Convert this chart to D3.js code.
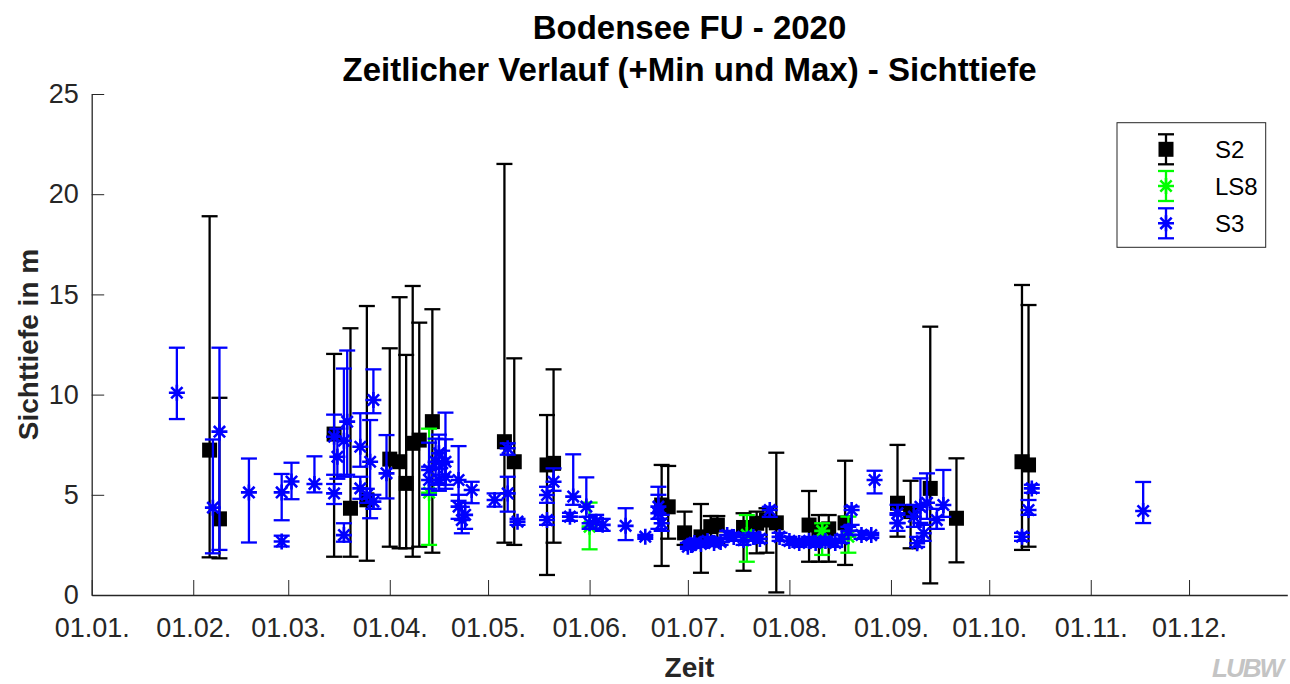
<!DOCTYPE html>
<html>
<head>
<meta charset="utf-8">
<script src="https://cdn.jsdelivr.net/npm/d3@7"></script>
<style>
  body { margin: 0; background: #fff; }
  svg { display: block; }
  text { font-family: "Liberation Sans", Arial, sans-serif; }
</style>
</head>
<body>
<script>
// S2 (black squares)
const s2Dates = ["2020-02-06","2020-02-09","2020-03-15","2020-03-20","2020-03-25","2020-04-01","2020-04-04","2020-04-06","2020-04-08","2020-04-10","2020-04-14","2020-05-06","2020-05-09","2020-05-19","2020-05-21","2020-06-23","2020-06-25","2020-06-30","2020-07-05","2020-07-08","2020-07-10","2020-07-18","2020-07-22","2020-07-25","2020-07-28","2020-08-07","2020-08-10","2020-08-13","2020-08-18","2020-09-03","2020-09-07","2020-09-13","2020-09-21","2020-10-11","2020-10-13"];
const s2Val  = [7.23,3.80,8.03,4.33,4.75,6.78,6.65,5.57,7.57,7.73,8.65,7.65,6.65,6.49,6.57,4.49,4.40,3.10,2.90,3.41,3.49,3.37,3.58,3.74,3.60,3.49,3.20,3.30,3.60,4.58,4.16,5.32,3.83,6.65,6.49];
const s2Min  = [1.88,1.83,1.91,1.91,1.71,2.41,2.33,2.33,1.91,2.41,2.11,2.61,2.50,1.00,2.61,1.45,2.81,2.50,1.11,2.50,2.60,1.21,2.08,2.11,0.13,1.66,1.66,1.66,1.50,2.91,2.33,0.58,1.63,2.25,2.41];
const s2Max  = [18.9,9.84,12.03,13.31,14.42,12.31,14.86,11.98,15.42,13.59,14.26,21.51,11.81,8.98,11.26,6.49,6.44,4.16,4.54,3.94,3.94,4.08,4.16,4.33,7.10,5.19,3.99,3.99,6.70,7.49,5.70,13.39,6.82,15.47,14.47];

// LS8 (green)
const ls8Dates = ["2020-04-13","2020-06-01","2020-07-19","2020-08-11","2020-08-19"];
const ls8Val   = [5.10,3.41,3.00,3.20,2.91];
const ls8Min   = [2.50,2.28,1.66,2.00,2.11];
const ls8Max   = [8.30,4.61,3.99,3.58,3.91];

// S3 (blue)
const s3Dates = ["2020-01-27","2020-02-07","2020-02-09","2020-02-18","2020-02-28","2020-02-28","2020-03-02","2020-03-09",
  "2020-03-15","2020-03-16","2020-03-15","2020-03-18","2020-03-19","2020-03-18","2020-03-23","2020-03-23","2020-03-27","2020-03-26","2020-03-27","2020-03-25","2020-03-31",
  "2020-04-13","2020-04-15","2020-04-16","2020-04-18","2020-04-13","2020-04-16","2020-04-18","2020-04-17","2020-04-22","2020-04-22","2020-04-23","2020-04-24","2020-04-26",
  "2020-05-03","2020-05-07","2020-05-07","2020-05-10","2020-05-19","2020-05-19","2020-05-21","2020-05-27","2020-05-26","2020-05-31",
  "2020-06-01","2020-06-03","2020-06-05","2020-06-12","2020-06-18","2020-06-22","2020-06-22","2020-06-23",
  "2020-07-01","2020-07-02","2020-07-03","2020-07-05","2020-07-07","2020-07-09","2020-07-11","2020-07-13","2020-07-15","2020-07-18","2020-07-21","2020-07-23","2020-07-26","2020-07-29",
  "2020-08-01","2020-08-04","2020-08-07","2020-08-09","2020-08-12","2020-08-15","2020-08-17","2020-08-19","2020-08-20","2020-08-23","2020-08-26","2020-08-27",
  "2020-09-03","2020-09-03","2020-09-08","2020-09-09","2020-09-10","2020-09-11","2020-09-12","2020-09-15","2020-09-17",
  "2020-10-11","2020-10-13","2020-10-14","2020-11-17"];
const s3Val = [10.09,4.36,8.15,5.12,5.12,2.67,5.66,5.54,
  7.90,6.90,5.07,2.99,8.65,7.70,7.40,5.32,9.73,6.65,4.66,4.99,6.07,
  6.24,6.65,7.07,6.65,5.74,5.74,5.90,6.57,5.74,4.41,3.74,4.00,5.24,
  4.74,7.32,5.07,3.66,3.74,4.99,5.65,4.91,3.91,4.41,
  3.58,3.66,3.50,3.45,2.91,4.08,4.41,3.58,
  2.41,2.50,2.60,2.55,2.70,2.60,2.65,2.99,2.90,2.74,2.90,2.80,4.24,2.90,
  2.70,2.60,2.70,2.60,2.70,2.60,2.80,3.20,4.24,3.00,2.99,5.74,
  3.58,4.08,3.91,2.58,4.40,3.08,4.60,3.74,4.49,
  2.91,4.24,5.32,4.19];
const s3Min = [8.78,2.08,2.25,2.62,3.73,2.42,4.78,5.12,
  6.00,5.80,4.54,2.66,6.00,5.90,6.40,4.80,9.07,3.83,4.30,4.60,4.82,
  5.30,5.50,5.60,5.50,5.00,5.20,5.30,6.00,4.70,3.80,3.08,3.30,4.58,
  4.41,7.00,4.16,3.50,3.50,4.60,5.20,4.50,3.70,3.90,
  3.30,3.30,3.20,2.74,2.80,3.30,3.80,3.20,
  2.30,2.35,2.45,2.40,2.50,2.45,2.50,2.80,2.70,2.50,2.70,2.60,3.90,2.70,
  2.50,2.40,2.50,2.40,2.50,2.40,2.60,3.00,3.50,2.80,2.85,5.07,
  3.20,3.60,3.40,2.40,3.60,2.70,3.80,3.30,3.90,
  2.70,4.00,5.10,3.59];
const s3Max = [12.34,7.76,12.34,6.81,6.04,2.96,6.60,6.92,
  9.00,8.30,5.54,3.58,12.20,11.30,9.07,5.90,11.26,8.73,5.00,5.30,7.98,
  7.60,7.80,8.00,7.77,6.40,6.30,9.10,7.20,7.43,5.00,4.40,4.60,5.65,
  5.07,7.57,5.90,3.80,3.90,5.40,6.32,7.02,4.10,5.87,
  3.90,4.00,3.80,4.33,3.00,5.40,5.00,4.00,
  2.60,2.70,2.80,2.70,2.90,2.80,2.85,3.20,3.10,3.00,3.10,3.00,4.40,3.10,
  2.90,2.80,2.90,2.80,2.90,2.80,3.00,3.40,4.41,3.20,3.10,6.20,
  4.00,4.50,4.50,2.90,5.82,3.50,6.07,4.30,6.24,
  3.10,4.74,5.50,5.64];

const yTicks = [0, 5, 10, 15, 20, 25];
const monthTicks = ["2020-01-01","2020-02-01","2020-03-01","2020-04-01","2020-05-01","2020-06-01","2020-07-01","2020-08-01","2020-09-01","2020-10-01","2020-11-01","2020-12-01"];

const W = 1290, H = 684;
const mLeft = 91.7, mRight = 1287.3, mTop = 94, mBottom = 595;
const parse = d3.timeParse("%Y-%m-%d");
const axisCol = "#262626";

const svg = d3.select("body").append("svg").attr("width", W).attr("height", H);

const x = d3.scaleTime().domain([parse("2020-01-01"), parse("2020-12-31")]).range([mLeft, mRight]);
const y = d3.scaleLinear().domain([0, 25]).range([mBottom, mTop]);

// axes
const gx = svg.append("g").attr("transform", `translate(0,${mBottom})`)
  .call(d3.axisBottom(x).tickValues(monthTicks.map(parse)).tickFormat(d3.timeFormat("%d.%m."))
    .tickSizeInner(-15).tickSizeOuter(0).tickPadding(23));
const gy = svg.append("g").attr("transform", `translate(${mLeft},0)`)
  .call(d3.axisLeft(y).tickValues(yTicks).tickSizeInner(-12.5).tickSizeOuter(0).tickPadding(13));
[gx, gy].forEach(g => {
  g.select(".domain").attr("stroke", axisCol).attr("stroke-width", 1.3);
  g.selectAll(".tick line").attr("stroke", axisCol).attr("stroke-width", 1);
  g.selectAll(".tick text").attr("fill", axisCol).attr("font-size", 27)
    .attr("font-family", "Liberation Sans, Arial, sans-serif");
});

// titles
svg.append("text").attr("x", (mLeft + mRight) / 2).attr("y", 39).attr("text-anchor", "middle")
  .attr("font-size", 33).attr("font-weight", "bold").attr("fill", "#000").text("Bodensee FU - 2020");
svg.append("text").attr("x", (mLeft + mRight) / 2).attr("y", 81).attr("text-anchor", "middle")
  .attr("font-size", 33).attr("font-weight", "bold").attr("fill", "#000").text("Zeitlicher Verlauf (+Min und Max) - Sichttiefe");
svg.append("text").attr("x", (mLeft + mRight) / 2).attr("y", 677).attr("text-anchor", "middle")
  .attr("font-size", 28).attr("font-weight", "bold").attr("fill", axisCol).text("Zeit");
svg.append("text").attr("transform", `translate(38,${(mTop + mBottom) / 2}) rotate(-90)`).attr("text-anchor", "middle")
  .attr("font-size", 28).attr("font-weight", "bold").attr("fill", axisCol).text("Sichttiefe in m");

// watermark
svg.append("text").attr("x", 1247).attr("y", 677).attr("text-anchor", "middle")
  .attr("font-size", 26).attr("font-weight", "bold").attr("font-style", "italic")
  .attr("letter-spacing", -2).attr("fill", "#c4c4c4").text("LUBW");

const cap = 8;
const star = r => {
  const a = r * 0.7071;
  return `M${-r},0H${r}M0,${-r}V${r}M${-a},${-a}L${a},${a}M${-a},${a}L${a},${-a}`;
};

function series(dates, vals, mins, maxs, color, marker) {
  const data = dates.map((d, i) => ({ t: parse(d), v: vals[i], lo: mins[i], hi: maxs[i] }));
  const g = svg.append("g");
  const eb = g.selectAll("g.eb").data(data).enter().append("g").attr("class", "eb")
    .attr("stroke", color).attr("stroke-width", 2.3).attr("fill", "none");
  eb.append("line").attr("x1", d => x(d.t)).attr("x2", d => x(d.t)).attr("y1", d => y(d.lo)).attr("y2", d => y(d.hi));
  eb.append("line").attr("x1", d => x(d.t) - cap).attr("x2", d => x(d.t) + cap).attr("y1", d => y(d.lo)).attr("y2", d => y(d.lo));
  eb.append("line").attr("x1", d => x(d.t) - cap).attr("x2", d => x(d.t) + cap).attr("y1", d => y(d.hi)).attr("y2", d => y(d.hi));
  if (marker === "square") {
    g.selectAll("rect").data(data).enter().append("rect")
      .attr("x", d => x(d.t) - 7.5).attr("y", d => y(d.v) - 7.5).attr("width", 15).attr("height", 15)
      .attr("fill", color);
  } else {
    g.selectAll("path").data(data).enter().append("path")
      .attr("transform", d => `translate(${x(d.t)},${y(d.v)})`).attr("d", star(8))
      .attr("stroke", color).attr("stroke-width", 2.6).attr("fill", "none");
  }
}

series(s2Dates, s2Val, s2Min, s2Max, "#000", "square");
series(ls8Dates, ls8Val, ls8Min, ls8Max, "#00ff00", "star");
series(s3Dates, s3Val, s3Min, s3Max, "#0000ff", "star");

// legend
const lg = svg.append("g");
lg.append("rect").attr("x", 1117).attr("y", 122.7).attr("width", 148.7).attr("height", 124.6)
  .attr("fill", "#fff").attr("stroke", axisCol).attr("stroke-width", 1);
const legNames = ["S2", "LS8", "S3"];
const legColors = ["#000", "#00ff00", "#0000ff"];
const legY = [149.3, 186, 223.3];
legNames.forEach((n, i) => {
  const cx = 1166, cy = legY[i];
  const e = lg.append("g").attr("stroke", legColors[i]).attr("stroke-width", 2.3).attr("fill", "none");
  e.append("line").attr("x1", cx).attr("x2", cx).attr("y1", cy - 15).attr("y2", cy + 15);
  e.append("line").attr("x1", cx - cap).attr("x2", cx + cap).attr("y1", cy - 15).attr("y2", cy - 15);
  e.append("line").attr("x1", cx - cap).attr("x2", cx + cap).attr("y1", cy + 15).attr("y2", cy + 15);
  if (i === 0) {
    lg.append("rect").attr("x", cx - 7.5).attr("y", cy - 7.5).attr("width", 15).attr("height", 15).attr("fill", "#000");
  } else {
    lg.append("path").attr("transform", `translate(${cx},${cy})`).attr("d", star(8))
      .attr("stroke", legColors[i]).attr("stroke-width", 2.6).attr("fill", "none");
  }
  lg.append("text").attr("x", 1215).attr("y", cy).attr("dy", "0.36em").attr("font-size", 24)
    .attr("fill", "#000").text(n);
});
</script>
</body>
</html>
